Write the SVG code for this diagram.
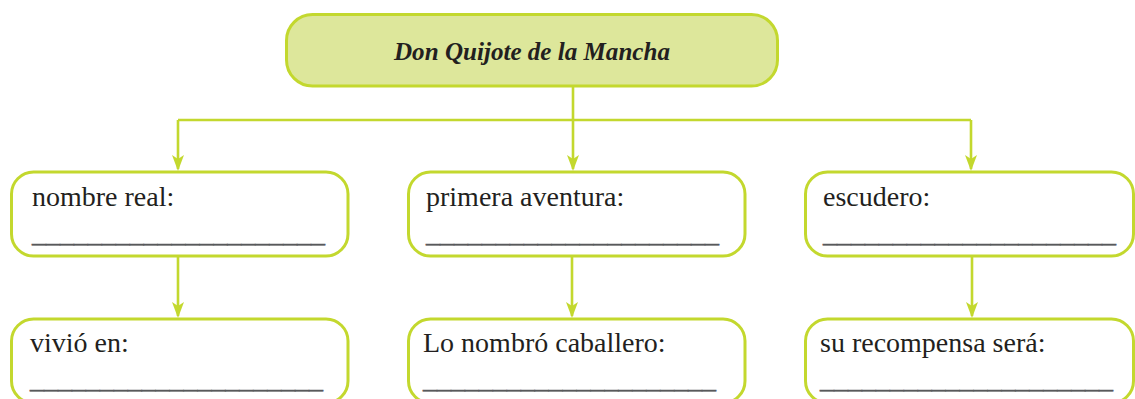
<svg xmlns="http://www.w3.org/2000/svg" width="1135" height="399" viewBox="0 0 1135 399">
<style>
.box{fill:#ffffff;stroke:#c3d82e;stroke-width:3}
.title{fill:#dde79b;stroke:#c3d82e;stroke-width:3}
.lbl{font-family:"Liberation Serif","Times New Roman",serif;font-size:28px;fill:#231f20}
.ttl{font-family:"Liberation Serif","Times New Roman",serif;font-size:26px;font-weight:bold;font-style:italic;fill:#231f20}
.ul{font-family:"Liberation Serif","Times New Roman",serif;font-size:28px;fill:#58595b;stroke:#58595b;stroke-width:0.5}
.con{fill:none;stroke:#c3d82e;stroke-width:2.6}
</style>
<defs>
<marker id="ah" markerUnits="userSpaceOnUse" viewBox="0 0 16 12" markerWidth="16" markerHeight="12" refX="14" refY="6" orient="auto">
<path d="M0,0 L16,6 L0,12 L4,6 Z" fill="#c3d82e"/>
</marker>
</defs>
<g id="connectors">
<path class="con" d="M573,87 V120 M178,120 H971"/>
<path class="con" d="M178,120 V169" marker-end="url(#ah)"/>
<path class="con" d="M573,120 V169" marker-end="url(#ah)"/>
<path class="con" d="M971,120 V169" marker-end="url(#ah)"/>
<path class="con" d="M178,257 V316" marker-end="url(#ah)"/>
<path class="con" d="M572,257 V316" marker-end="url(#ah)"/>
<path class="con" d="M972,257 V316" marker-end="url(#ah)"/>
</g>
<g id="node-title">
<rect class="title" x="286.5" y="14.5" width="491" height="71.5" rx="26"/>
<text class="ttl" x="532" y="60" text-anchor="middle" textLength="276" lengthAdjust="spacingAndGlyphs">Don Quijote de la Mancha</text>
</g>
<g id="node-nombre">
<rect class="box" x="11.5" y="172" width="336.5" height="84" rx="22"/>
<text class="lbl" x="32" y="206">nombre real:</text>
<text class="ul" x="32" y="242" textLength="293" lengthAdjust="spacingAndGlyphs">_____________________</text>
</g>
<g id="node-aventura">
<rect class="box" x="408.5" y="172" width="336.5" height="84" rx="22"/>
<text class="lbl" x="426" y="206">primera aventura:</text>
<text class="ul" x="426" y="242" textLength="293" lengthAdjust="spacingAndGlyphs">_____________________</text>
</g>
<g id="node-escudero">
<rect class="box" x="805.5" y="172" width="328" height="84" rx="22"/>
<text class="lbl" x="823" y="206">escudero:</text>
<text class="ul" x="823" y="242" textLength="293" lengthAdjust="spacingAndGlyphs">_____________________</text>
</g>
<g id="node-vivio">
<rect class="box" x="11.5" y="319" width="336.5" height="84" rx="22"/>
<text class="lbl" x="30" y="352">vivió en:</text>
<text class="ul" x="30" y="388" textLength="293" lengthAdjust="spacingAndGlyphs">_____________________</text>
</g>
<g id="node-caballero">
<rect class="box" x="408.5" y="319" width="336.5" height="84" rx="22"/>
<text class="lbl" x="423" y="352">Lo nombró caballero:</text>
<text class="ul" x="423" y="388" textLength="293" lengthAdjust="spacingAndGlyphs">_____________________</text>
</g>
<g id="node-recompensa">
<rect class="box" x="805.5" y="319" width="328" height="84" rx="22"/>
<text class="lbl" x="820" y="352">su recompensa será:</text>
<text class="ul" x="820" y="388" textLength="293" lengthAdjust="spacingAndGlyphs">_____________________</text>
</g>
</svg>
